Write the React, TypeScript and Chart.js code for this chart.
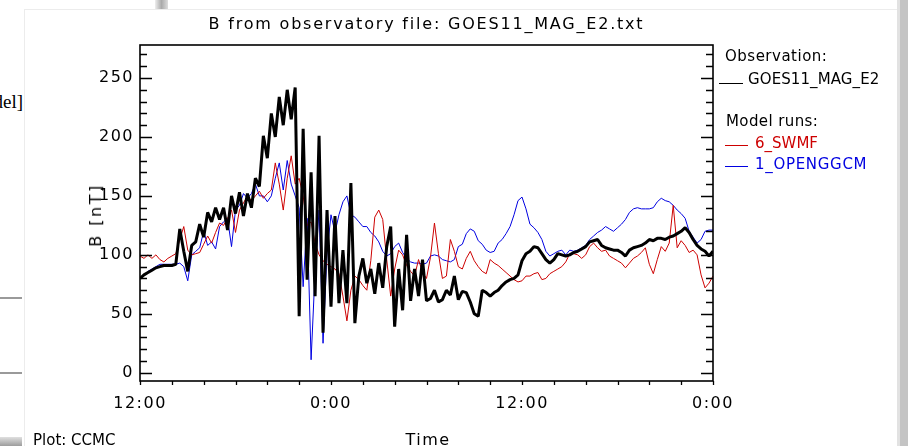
import React, { useEffect, useRef } from "react";
import { Chart, registerables } from "chart.js";

Chart.register(...registerables);

// ---- data (hours after 12:00 of day 1, sampled every 15 minutes) ----
const hourStep = 0.25;

const goesObs = [
  80, 83, 85, 87, 89, 90, 91, 91, 91, 92, 122, 103, 86, 108, 111, 126, 115, 136, 128, 140,
  130, 140, 121, 150, 135, 153, 133, 152, 140, 165, 158, 201, 182, 220, 200, 234, 210, 240, 215, 242,
  48, 207, 79, 170, 65, 201, 34, 138, 56, 133, 59, 104, 59, 161, 42, 82, 97, 76, 88, 67,
  93, 72, 107, 124, 39, 88, 53, 117, 61, 88, 65, 96, 61, 63, 70, 60, 62, 70, 66, 82,
  62, 69, 68, 60, 50, 48, 70, 68, 65, 68, 70, 74, 77, 79, 80, 83, 95, 101, 103, 107,
  106, 101, 96, 93, 96, 101, 100, 99, 100, 102, 103, 105, 107, 111, 112, 113, 108, 106, 105, 104,
  104, 102, 99, 104, 106, 107, 108, 110, 113, 112, 114, 114, 113, 115, 116, 118, 120, 123, 119, 113,
  108, 105, 103, 99, 103,
];

const swmfRun = [
  99, 97, 100, 97, 100, 96, 94, 97, 99, 101, 113, 124, 104, 100, 101, 102, 109, 116, 110, 119,
  127, 125, 131, 138, 119, 138, 144, 150, 146, 150, 154, 148, 152, 155, 178, 160, 138, 165, 184, 160,
  165, 150, 125, 128, 110, 100, 95, 92, 90, 88, 84, 65, 44, 70, 82, 79, 74, 70, 95, 132,
  138, 130, 96, 65, 88, 104, 100, 91, 86, 82, 96, 85, 80, 98, 127, 101, 80, 82, 113, 103,
  90, 88, 97, 103, 95, 90, 86, 84, 96, 93, 91, 88, 85, 82, 79, 77, 78, 82, 82, 84,
  85, 79, 80, 84, 86, 88, 90, 94, 101, 101, 100, 97, 100, 107, 110, 106, 103, 104, 99, 97,
  95, 93, 89, 93, 97, 99, 102, 106, 92, 84, 96, 107, 103, 110, 142, 106, 112, 108, 102, 104,
  100, 83, 72, 76, 82,
];

const openggcmRun = [
  80, 82, 86, 88, 90, 92, 92, 92, 92, 92, 93, 90, 78, 100, 103, 106, 120, 108, 111, 105,
  124, 128, 131, 107, 138, 142, 152, 148, 152, 160, 150, 150, 145, 150, 165, 178, 155, 180, 160, 150,
  140, 73, 131, 11, 86, 138, 25, 102, 134, 119, 134, 145, 150, 134, 132, 128, 124, 124, 119, 116,
  111, 103, 99, 101, 107, 110, 102, 97, 94, 93, 93, 92, 93, 99, 100, 99, 96, 95, 94, 96,
  107, 109, 118, 122, 120, 112, 109, 104, 102, 103, 110, 113, 118, 124, 134, 146, 149, 139, 126, 123,
  119, 113, 103, 99, 101, 103, 104, 100, 104, 103, 104, 106, 108, 113, 116, 119, 121, 124, 122, 120,
  123, 126, 130, 136, 139, 140, 139, 139, 139, 140, 145, 148, 146, 145, 142, 138, 135, 131, 120, 115,
  110, 113, 120, 121, 121,
];

const hours = goesObs.map((_, i) => i * hourStep);

const xTickHours = [0, 12, 24, 36];
const xTickLabels = ["12:00", "0:00", "12:00", "0:00"];
const yTickValues = [0, 50, 100, 150, 200, 250];
const yMin = -7;
const yMax = 278;
const xMin = 0;
const xMax = 36;
const xMinorStep = 2;
const yMinorStep = 10;
const yMinorTop = 270;

const RED = "rgb(205,0,0)";
const BLUE = "rgb(0,0,225)";
const FONT = '"DejaVu Sans", sans-serif';

const framePlugin = {
  id: "idlFrame",
  beforeDraw(chart: any) {
    chart.ctx.letterSpacing = "1.5px";
  },
  afterDatasetsDraw(chart: any) {
    const { ctx, chartArea: a, scales } = chart;
    const x = scales.x;
    const y = scales.y;
    ctx.save();
    ctx.letterSpacing = "0px";
    ctx.strokeStyle = "#000";
    ctx.lineWidth = 1.6;
    ctx.strokeRect(a.left, a.top, a.right - a.left, a.bottom - a.top);
    ctx.lineWidth = 1.3;
    ctx.beginPath();
    for (let v = 0; v <= yMinorTop; v += yMinorStep) {
      const py = Math.round(y.getPixelForValue(v)) + 0.5;
      const len = v % 50 === 0 ? 12 : 7;
      ctx.moveTo(a.left, py);
      ctx.lineTo(a.left + len, py);
      ctx.moveTo(a.right, py);
      ctx.lineTo(a.right - len, py);
    }
    for (let h = xMin; h <= xMax; h += xMinorStep) {
      const px = Math.round(x.getPixelForValue(h)) + 0.5;
      ctx.moveTo(px, a.bottom);
      ctx.lineTo(px, a.bottom + 4);
    }
    ctx.stroke();
    ctx.restore();
  },
};

const abs = (extra: React.CSSProperties): React.CSSProperties => ({
  position: "absolute",
  whiteSpace: "nowrap",
  lineHeight: 1,
  ...extra,
});

export default function App() {
  const ref = useRef<HTMLCanvasElement>(null);

  useEffect(() => {
    const canvas = ref.current;
    if (!canvas) return;
    const pts = (vals: number[]) => hours.map((h, i) => ({ x: h, y: vals[i] }));
    const chart = new Chart(canvas, {
      type: "line",
      data: {
        datasets: [
          {
            label: "GOES11_MAG_E2",
            data: pts(goesObs),
            borderColor: "#000",
            borderWidth: 3,
            pointRadius: 0,
            borderJoinStyle: "bevel",
            tension: 0,
          },
          {
            label: "6_SWMF",
            data: pts(swmfRun),
            borderColor: RED,
            borderWidth: 1,
            pointRadius: 0,
            tension: 0,
          },
          {
            label: "1_OPENGGCM",
            data: pts(openggcmRun),
            borderColor: BLUE,
            borderWidth: 1,
            pointRadius: 0,
            tension: 0,
          },
        ],
      },
      options: {
        animation: false,
        responsive: false,
        devicePixelRatio: 1,
        events: [],
        layout: { padding: { left: 0, top: 45, right: 195, bottom: 0 } },
        plugins: {
          legend: { display: false },
          title: { display: false },
          tooltip: { enabled: false },
        },
        scales: {
          x: {
            type: "linear",
            min: xMin,
            max: xMax,
            position: "bottom",
            grid: { display: false, drawTicks: false },
            border: { display: false },
            afterBuildTicks: (s: any) => {
              s.ticks = xTickHours.map((v) => ({ value: v }));
            },
            afterFit: (s: any) => {
              s.height = 65;
            },
            ticks: {
              autoSkip: false,
              maxRotation: 0,
              padding: 13,
              color: "#000",
              font: { family: FONT, size: 16 },
              callback: (_v: any, i: number) => xTickLabels[i],
            },
          },
          y: {
            type: "linear",
            min: yMin,
            max: yMax,
            grid: { display: false, drawTicks: false },
            border: { display: false },
            afterBuildTicks: (s: any) => {
              s.ticks = yTickValues.map((v) => ({ value: v }));
            },
            afterFit: (s: any) => {
              s.width = 140;
            },
            ticks: {
              padding: 6,
              color: "#000",
              font: { family: FONT, size: 16 },
              callback: (v: any) => String(v),
            },
          },
        },
      } as any,
      plugins: [framePlugin],
    });
    return () => chart.destroy();
  }, []);

  return (
    <div
      style={{
        position: "fixed",
        left: 0,
        top: 0,
        width: 908,
        height: 446,
        background: "#fff",
        overflow: "hidden",
        fontFamily: FONT,
        color: "#000",
      }}
    >
      {/* surrounding page fragments */}
      <div style={abs({ left: 155, top: 0, width: 13, height: 10, background: "linear-gradient(to right,#eee,#aaa 50%,#ddd)" })} />
      <div style={abs({ left: 24, top: 9, width: 873, height: 1, background: "#ececec" })} />
      <div style={abs({ left: 24, top: 9, width: 1, height: 437, background: "#ececec" })} />
      <div style={abs({ left: 897, top: 0, width: 3, height: 446, background: "#e2e2e2" })} />
      <div style={abs({ left: 900, top: 0, width: 8, height: 446, background: "#c4c4c4" })} />
      <div style={abs({ left: 0, top: 297, width: 22, height: 2, background: "#9a9a9a" })} />
      <div style={abs({ left: 0, top: 372, width: 22, height: 2, background: "#9a9a9a" })} />
      <div style={abs({ left: 0, top: 437, width: 22, height: 9, background: "linear-gradient(#e0e0e0,#9c9c9c)" })} />
      <div style={abs({ right: 885, top: 92, fontFamily: '"Liberation Serif", serif', fontSize: 19 })}>del]</div>

      <canvas ref={ref} width={908} height={446} style={{ position: "absolute", left: 0, top: 0, display: "block" }} />

      {/* titles */}
      <div style={abs({ left: 426.5, top: 15.5, fontSize: 16, letterSpacing: "1.8px", transform: "translateX(-50%)" })}>
        B from observatory file: GOES11_MAG_E2.txt
      </div>
      <div style={abs({ left: 96, top: 215, fontSize: 16, letterSpacing: "2.5px", transform: "translate(-50%,-50%) rotate(-90deg)" })}>
        B [nT]
      </div>
      <div style={abs({ left: 428, top: 432, fontSize: 16, letterSpacing: "1.5px", transform: "translateX(-50%)" })}>Time</div>
      <div style={abs({ left: 33, top: 433, fontSize: 15 })}>Plot: CCMC</div>

      {/* legend */}
      <div style={abs({ left: 725, top: 49, fontSize: 15, letterSpacing: "0.5px" })}>Observation:</div>
      <div style={abs({ left: 719, top: 83, width: 24, height: 1, background: "#000" })} />
      <div style={abs({ left: 748, top: 71.5, fontSize: 15, letterSpacing: "0.1px" })}>GOES11_MAG_E2</div>
      <div style={abs({ left: 726, top: 114, fontSize: 15, letterSpacing: "0.4px" })}>Model runs:</div>
      <div style={abs({ left: 725, top: 145, width: 23, height: 1, background: RED })} />
      <div style={abs({ left: 755, top: 135.5, fontSize: 15, color: RED })}>6_SWMF</div>
      <div style={abs({ left: 725, top: 166, width: 23, height: 1, background: BLUE })} />
      <div style={abs({ left: 755, top: 156.5, fontSize: 15, letterSpacing: "0.7px", color: BLUE })}>1_OPENGGCM</div>
    </div>
  );
}
